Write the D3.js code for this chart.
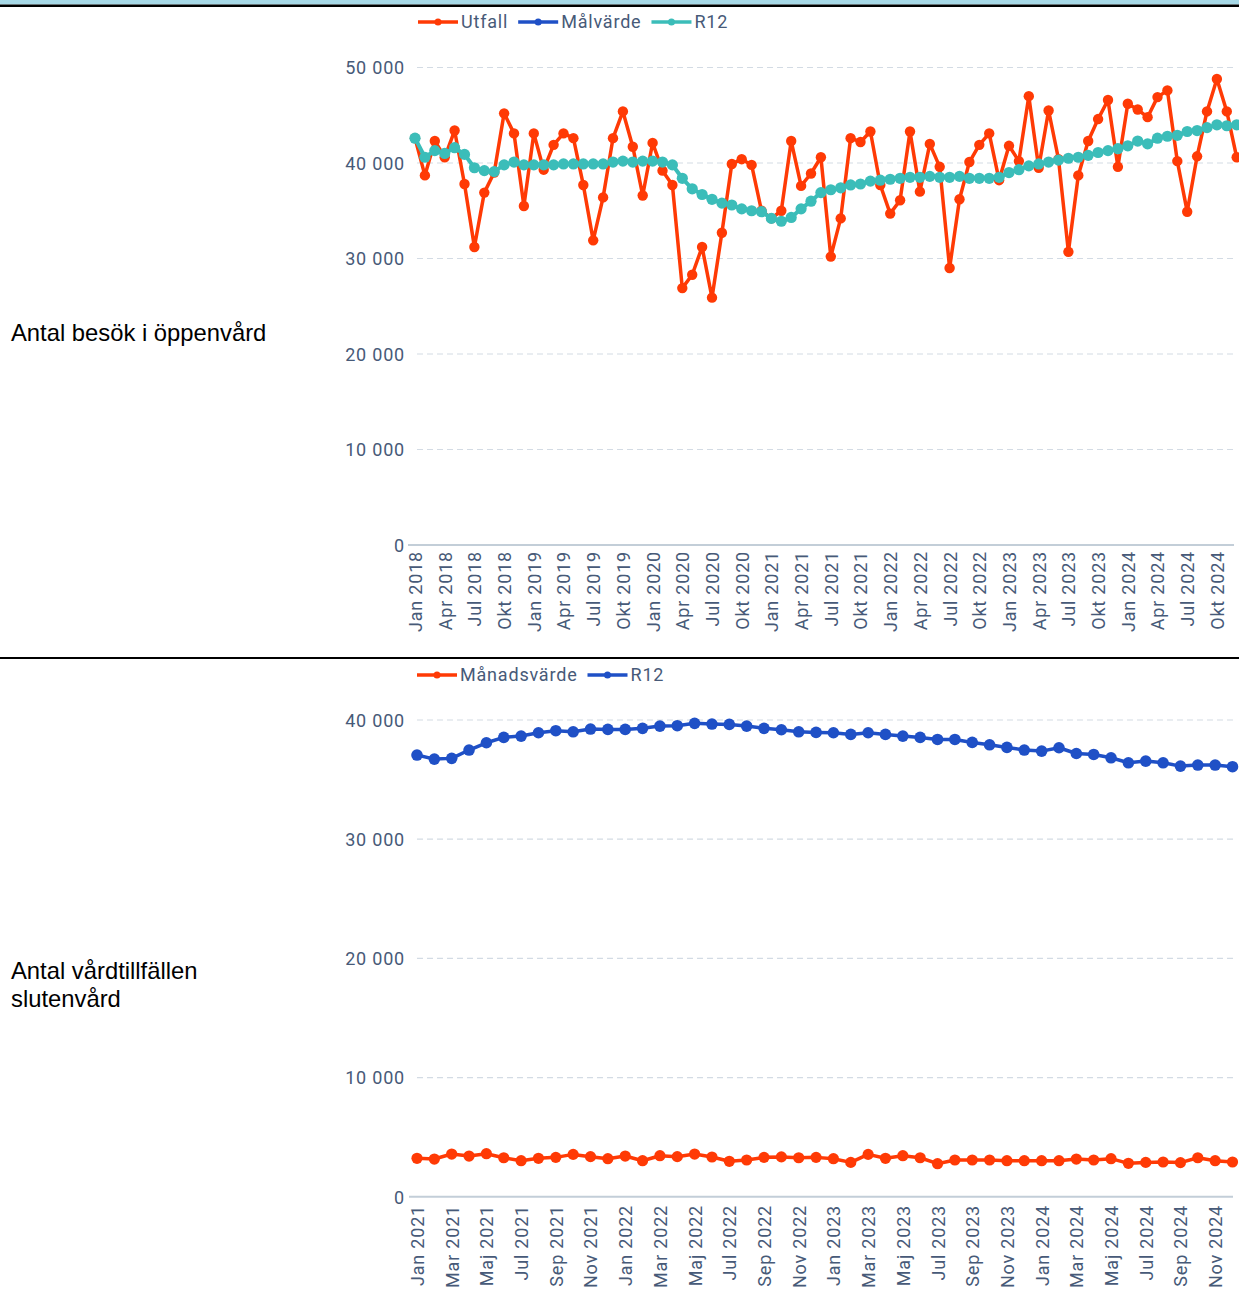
<!DOCTYPE html>
<html lang="sv">
<head>
<meta charset="utf-8">
<title>Besök och vårdtillfällen</title>
<script src="https://cdn.jsdelivr.net/npm/d3@7"></script>
<style>
  html, body { margin: 0; padding: 0; background: #fff; }
  svg { display: block; }
  .tick-label { font-family: Roboto, "Noto Sans", sans-serif; font-size: 18px; fill: #475a78; letter-spacing: 0.8px; }
  .legend-label { font-family: Roboto, "Noto Sans", sans-serif; font-size: 18px; fill: #475a78; letter-spacing: 0.8px; }
  .row-label { font-family: "Liberation Sans", Arial, sans-serif; font-size: 23.8px; fill: #000; }
</style>
</head>
<body>
<svg id="chart" width="1239" height="1304"></svg>
<script>
// Swedish month abbreviations used on the x axes
const monthNames = ["Jan", "Feb", "Mar", "Apr", "Maj", "Jun", "Jul", "Aug", "Sep", "Okt", "Nov", "Dec"];

// Öppenvård: months Jan 2018 – Dec 2024
const oppenYears = [2018, 2019, 2020, 2021, 2022, 2023, 2024];
const oppenUtfall = [
  42600, 38700, 42300, 40600, 43400, 37800, 31200, 36900, 39000, 45200, 43100, 35500,
  43100, 39300, 41900, 43100, 42600, 37700, 31900, 36400, 42600, 45400, 41700, 36600,
  42100, 39200, 37700, 26900, 28300, 31200, 25900, 32700, 39900, 40400, 39800, 35000,
  34200, 35000, 42300, 37600, 38900, 40600, 30200, 34200, 42600, 42200, 43300, 37700,
  34700, 36100, 43300, 37000, 42000, 39600, 29000, 36200, 40100, 41900, 43100, 38200,
  41800, 40200, 47000, 39500, 45500, 40400, 30700, 38700, 42300, 44600, 46600, 39600,
  46200, 45600, 44800, 46900, 47600, 40200, 34900, 40700, 45400, 48800, 45400, 40600
];
const oppenMalvarde = [];
const oppenR12 = [
  42600, 40600, 41300, 41000, 41600, 40900, 39500, 39200, 39100, 39800, 40100, 39800,
  39800, 39800, 39800, 39900, 39900, 39900, 39900, 39900, 40100, 40200, 40100, 40200,
  40200, 40100, 39800, 38400, 37300, 36700, 36200, 35800, 35600, 35200, 35000, 34900,
  34200, 33900, 34300, 35200, 36000, 36900, 37200, 37400, 37700, 37800, 38100, 38200,
  38300, 38400, 38500, 38500, 38600, 38500, 38500, 38600, 38400, 38400, 38400, 38500,
  39000, 39300, 39700, 39900, 40100, 40300, 40500, 40600, 40800, 41100, 41300, 41500,
  41800, 42300, 42000, 42600, 42800, 42900, 43300, 43400, 43700, 44000, 43900, 44000
];
const oppenTicks = [0, 10000, 20000, 30000, 40000, 50000];

// Slutenvård: months Jan 2021 – Dec 2024
const slutenYears = [2021, 2022, 2023, 2024];
const slutenManadsvarde = [
  3220, 3160, 3580, 3410, 3610, 3270, 3020, 3220, 3300, 3550, 3360, 3190,
  3410, 3020, 3440, 3360, 3580, 3330, 2970, 3080, 3300, 3340, 3270, 3300,
  3190, 2880, 3550, 3220, 3440, 3270, 2770, 3080, 3080, 3080, 3020, 3020,
  3020, 3020, 3160, 3080, 3190, 2800, 2880, 2910, 2860, 3270, 3020, 2910
];
const slutenR12 = [
  37060, 36720, 36780, 37480, 38090, 38540, 38650, 38930, 39100, 39010, 39240, 39210,
  39210, 39300, 39490, 39520, 39720, 39660, 39630, 39490, 39300, 39180, 39010, 38960,
  38930, 38790, 38930, 38790, 38650, 38540, 38370, 38370, 38120, 37920, 37700, 37480,
  37390, 37670, 37190, 37110, 36830, 36410, 36550, 36410, 36130, 36220, 36220, 36080
];
const slutenTicks = [0, 10000, 20000, 30000, 40000];

const COLORS = { red: "#ff3a05", blue: "#1f50c6", teal: "#3bbdb9" };

const svLocale = d3.formatLocale({ decimal: ",", thousands: " ", grouping: [3], currency: ["", " kr"] });
const fmt = svLocale.format(",d");

const svg = d3.select("#chart");

// Header band and separators
svg.append("rect").attr("x", 0).attr("y", 0).attr("width", 1239).attr("height", 4.5).attr("fill", "#a7d9e7");
svg.append("rect").attr("x", 0).attr("y", 4.5).attr("width", 1239).attr("height", 2.5).attr("fill", "#000");
svg.append("rect").attr("x", 0).attr("y", 657).attr("width", 1239).attr("height", 2).attr("fill", "#000");

function monthCategories(years) {
  const out = [];
  years.forEach(y => monthNames.forEach(m => out.push(m + " " + y)));
  return out;
}

function drawPanel(cfg) {
  const g = svg.append("g");
  const cats = monthCategories(cfg.years);
  const x = d3.scalePoint().domain(cats).range(cfg.xRange);
  const y = d3.scaleLinear().domain([0, cfg.yMax]).range(cfg.yRange);

  // Dashed horizontal grid
  g.append("g").selectAll("line")
    .data(cfg.ticks.filter(t => t > 0))
    .join("line")
    .attr("x1", cfg.gridX[0]).attr("x2", cfg.gridX[1])
    .attr("y1", d => y(d)).attr("y2", d => y(d))
    .attr("stroke", "#d3dbe4").attr("stroke-width", 1.2)
    .attr("stroke-dasharray", "6,4");

  // Baseline
  g.append("line")
    .attr("x1", cfg.baseX[0]).attr("x2", cfg.baseX[1])
    .attr("y1", y(0)).attr("y2", y(0))
    .attr("stroke", "#c3ced8").attr("stroke-width", 2);

  // Y axis labels
  const yAxis = d3.axisLeft(y).tickValues(cfg.ticks).tickFormat(fmt).tickSize(0).tickPadding(0);
  const ya = g.append("g").attr("transform", `translate(${cfg.yLabelX},0)`).call(yAxis);
  ya.select(".domain").remove();
  ya.selectAll("text").attr("class", "tick-label").attr("fill", null).attr("dy", "0.35em");

  // X axis labels, rotated
  const shown = cats.filter((c, i) => i % cfg.every === 0);
  const xAxis = d3.axisBottom(x).tickValues(shown).tickSize(0).tickPadding(0);
  const xa = g.append("g").attr("transform", `translate(0,${cfg.xLabelY})`).call(xAxis);
  xa.select(".domain").remove();
  xa.selectAll("text")
    .attr("class", "tick-label").attr("fill", null)
    .attr("text-anchor", "end")
    .attr("transform", "rotate(-90)")
    .attr("x", 0).attr("y", 0).attr("dy", "0.36em");

  // Series
  cfg.series.forEach(s => {
    if (!s.values.length) return;
    const pts = s.values.map((v, i) => [x(cats[i]), y(v)]);
    g.append("path")
      .attr("d", d3.line()(pts))
      .attr("fill", "none").attr("stroke", s.color)
      .attr("stroke-width", s.width).attr("stroke-linejoin", "round");
    g.append("g").selectAll("circle").data(pts).join("circle")
      .attr("cx", d => d[0]).attr("cy", d => d[1]).attr("r", s.r)
      .attr("fill", s.color);
  });

  // Legend
  const lg = g.append("g").attr("transform", `translate(${cfg.legendX},${cfg.legendY})`);
  let cx = 0;
  cfg.series.forEach(s => {
    lg.append("line").attr("x1", cx).attr("x2", cx + 40).attr("y1", 0).attr("y2", 0)
      .attr("stroke", s.color).attr("stroke-width", 3.5);
    lg.append("circle").attr("cx", cx + 20).attr("cy", 0).attr("r", 3.5).attr("fill", s.color);
    const t = lg.append("text").attr("class", "legend-label")
      .attr("x", cx + 43).attr("y", 0).attr("dy", "0.35em").text(s.name);
    cx += 43 + t.node().getComputedTextLength() + 10;
  });

  // Row label
  const rl = svg.append("text").attr("class", "row-label").attr("x", 11).attr("y", cfg.rowLabelY);
  cfg.rowLabel.forEach((line, i) => {
    rl.append("tspan").attr("x", 11).attr("dy", i === 0 ? 0 : 28).text(line);
  });
}

drawPanel({
  years: oppenYears,
  xRange: [415, 1236.7],
  yRange: [545, 67.5],
  yMax: 50000,
  ticks: oppenTicks,
  gridX: [417, 1233],
  baseX: [408, 1234],
  yLabelX: 405,
  xLabelY: 551,
  every: 3,
  legendX: 418,
  legendY: 22,
  rowLabel: ["Antal besök i öppenvård"],
  rowLabelY: 341,
  series: [
    { name: "Utfall", values: oppenUtfall, color: COLORS.red, width: 3.5, r: 5.2 },
    { name: "Målvärde", values: oppenMalvarde, color: COLORS.blue, width: 3.5, r: 5.2 },
    { name: "R12", values: oppenR12, color: COLORS.teal, width: 4, r: 5.6 }
  ]
});

drawPanel({
  years: slutenYears,
  xRange: [417, 1232.5],
  yRange: [1196.7, 720],
  yMax: 40000,
  ticks: slutenTicks,
  gridX: [417, 1233],
  baseX: [409, 1233],
  yLabelX: 405,
  xLabelY: 1205,
  every: 2,
  legendX: 417,
  legendY: 675,
  rowLabel: ["Antal vårdtillfällen", "slutenvård"],
  rowLabelY: 979,
  series: [
    { name: "Månadsvärde", values: slutenManadsvarde, color: COLORS.red, width: 3.5, r: 5.6 },
    { name: "R12", values: slutenR12, color: COLORS.blue, width: 3.5, r: 5.8 }
  ]
});
</script>
</body>
</html>
